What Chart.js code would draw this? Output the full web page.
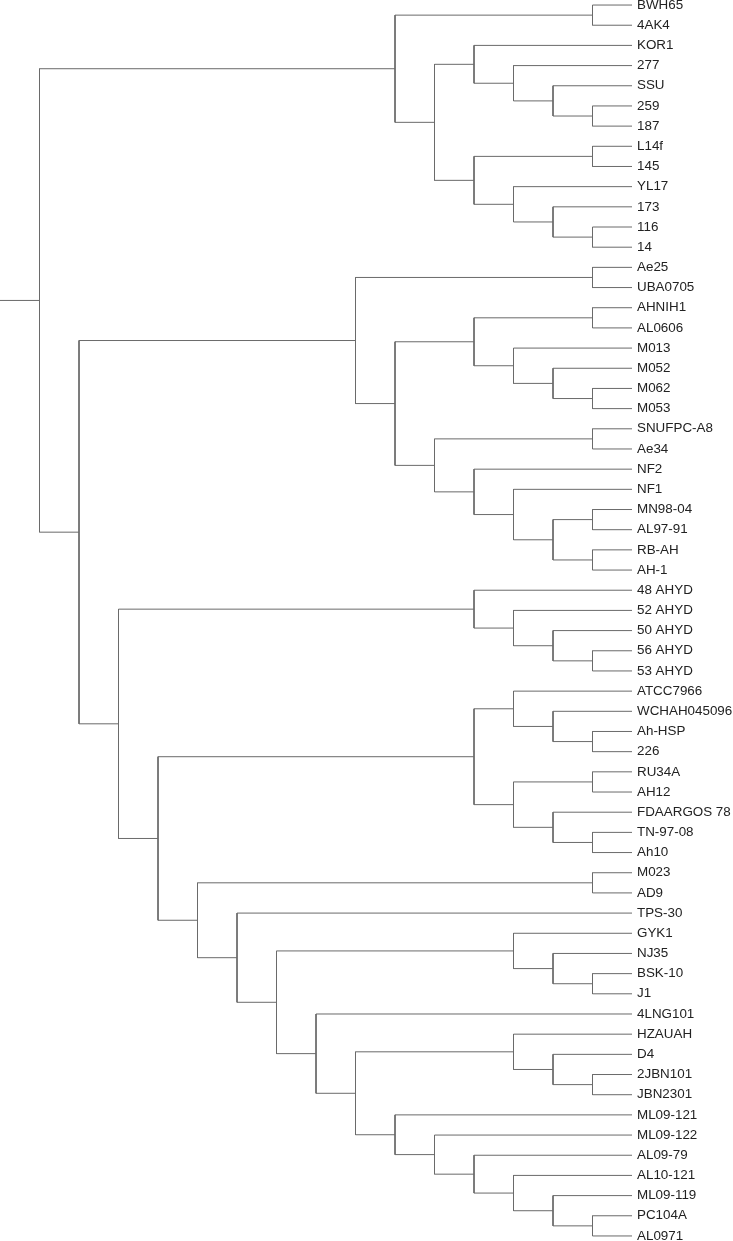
<!DOCTYPE html>
<html>
<head>
<meta charset="utf-8">
<script src="https://cdn.jsdelivr.net/npm/chart.js@4.4.1/dist/chart.umd.min.js"></script>
<style>
  html, body { margin: 0; padding: 0; background: #fff; }
  #wrap { width: 733px; height: 1241px; }
</style>
</head>
<body>
<div id="wrap"><canvas id="chart"></canvas></div>
<script>
// tip labels, top to bottom
const tipLabels = [
  "BWH65", "4AK4", "KOR1", "277", "SSU", "259", "187", "L14f", "145", "YL17", "173", "116", "14",
  "Ae25", "UBA0705", "AHNIH1", "AL0606", "M013", "M052", "M062", "M053", "SNUFPC-A8", "Ae34",
  "NF2", "NF1", "MN98-04", "AL97-91", "RB-AH", "AH-1",
  "48 AHYD", "52 AHYD", "50 AHYD", "56 AHYD", "53 AHYD",
  "ATCC7966", "WCHAH045096", "Ah-HSP", "226", "RU34A", "AH12", "FDAARGOS 78", "TN-97-08", "Ah10",
  "M023", "AD9", "TPS-30", "GYK1", "NJ35", "BSK-10", "J1", "4LNG101", "HZAUAH", "D4", "2JBN101",
  "JBN2301", "ML09-121", "ML09-122", "AL09-79", "AL10-121", "ML09-119", "PC104A", "AL0971"
];

// clades as nested pairs
const cladeTop = [["BWH65", "4AK4"], [["KOR1", ["277", ["SSU", ["259", "187"]]]], [["L14f", "145"], ["YL17", ["173", ["116", "14"]]]]]];
const cladeMid = [["Ae25", "UBA0705"], [[["AHNIH1", "AL0606"], ["M013", ["M052", ["M062", "M053"]]]], [["SNUFPC-A8", "Ae34"], ["NF2", ["NF1", [["MN98-04", "AL97-91"], ["RB-AH", "AH-1"]]]]]]];
const cladeAhyd = ["48 AHYD", ["52 AHYD", ["50 AHYD", ["56 AHYD", "53 AHYD"]]]];
const cladeAtcc = [["ATCC7966", ["WCHAH045096", ["Ah-HSP", "226"]]], [["RU34A", "AH12"], ["FDAARGOS 78", ["TN-97-08", "Ah10"]]]];
const cladeLow = [["M023", "AD9"], ["TPS-30", [["GYK1", ["NJ35", ["BSK-10", "J1"]]], ["4LNG101", [["HZAUAH", ["D4", ["2JBN101", "JBN2301"]]], ["ML09-121", ["ML09-122", ["AL09-79", ["AL10-121", ["ML09-119", ["PC104A", "AL0971"]]]]]]]]]]];

const tree = [cladeTop, [cladeMid, [cladeAhyd, [cladeAtcc, cladeLow]]]];

// elbow branches, x = node height (tips at 0), y = tip index
const branches = [];
function layout(node) {
    if (typeof node === 'string') {
        return { x: 0, y: tipLabels.indexOf(node) };
    }
    let a = layout(node[0]);
    let b = layout(node[1]);
    let x = Math.max(a.x, b.x) + 1;
    branches.push([
        { x: a.x, y: a.y },
        { x: x, y: a.y },
        { x: x, y: b.y },
        { x: b.x, y: b.y }
    ]);
    return { x: x, y: (a.y + b.y) / 2 };
}
const root = layout(tree);
branches.push([{ x: root.x, y: root.y }, { x: root.x + 1, y: root.y }]);

new Chart(document.getElementById('chart'), {
    type: 'scatter',
    data: {
        datasets: branches.map(pts => ({
            data: pts,
            showLine: true,
            borderColor: '#6a6a6a',
            borderWidth: 1,
            pointRadius: 0,
            pointHoverRadius: 0,
            clip: false
        }))
    },
    options: {
        responsive: true,
        maintainAspectRatio: false,
        animation: false,
        events: [],
        layout: { padding: 0 },
        plugins: {
            legend: { display: false },
            tooltip: { enabled: false }
        },
        scales: {
            x: {
                type: 'linear',
                display: false,
                reverse: true,
                min: 0,
                max: root.x + 1
            },
            y: {
                type: 'linear',
                position: 'right',
                reverse: true,
                min: -0.25,
                max: tipLabels.length - 0.75,
                afterBuildTicks: s => {
                    s.ticks = tipLabels.map((_, i) => ({ value: i }));
                },
                afterFit: s => {
                    s.width = 101;
                    s.paddingTop = 0;
                    s.paddingBottom = 0;
                },
                grid: { display: false, drawTicks: false },
                border: { display: false },
                ticks: {
                    autoSkip: false,
                    padding: 5,
                    color: '#222',
                    font: { family: 'Liberation Sans', size: 13.4 },
                    callback: v => tipLabels[v]
                }
            }
        }
    }
});
</script>
</body>
</html>
